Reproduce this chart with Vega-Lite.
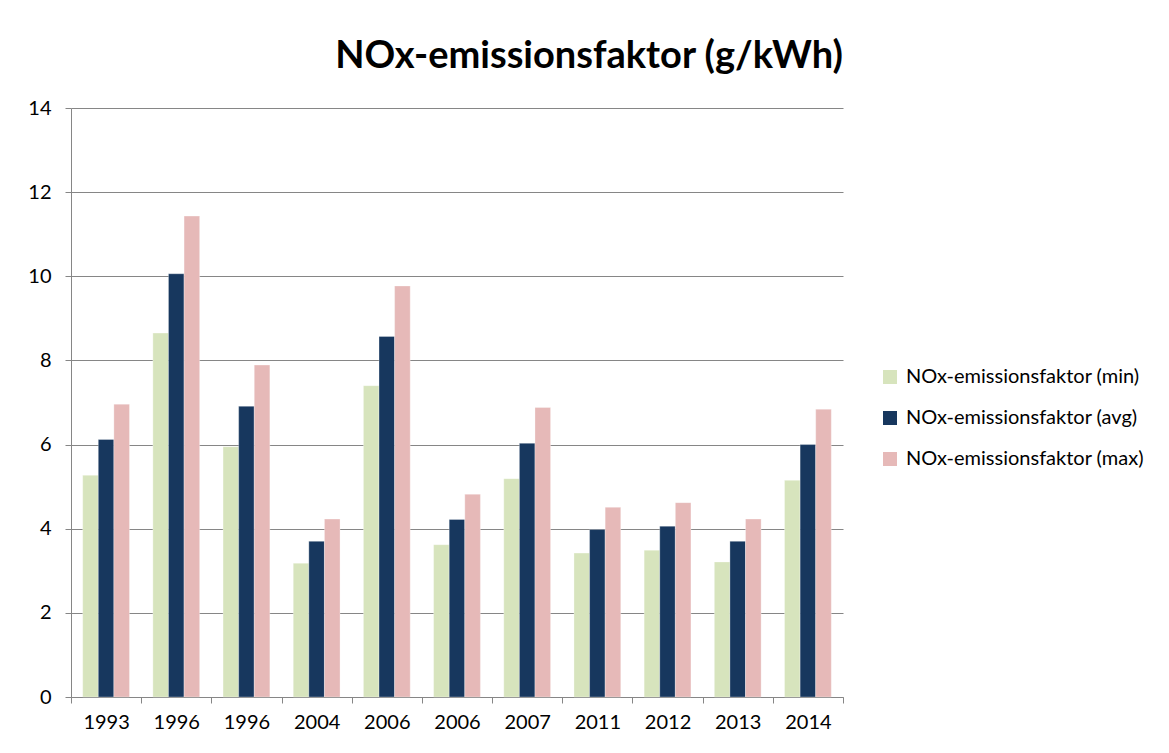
{
  "$schema": "https://vega.github.io/schema/vega-lite/v6.json",
  "autosize": {"type": "none"},
  "width": 772,
  "height": 589,
  "padding": {"left": 71, "top": 108, "right": 326, "bottom": 56},
  "background": "white",
  "title": {"text": "NOx-emissionsfaktor (g/kWh)", "font": "Lato", "fontSize": 38, "fontWeight": "bold", "color": "black", "anchor": "end", "frame": "group", "offset": 22},
  "data": {"values": [
    {"cat": "1993", "min": 5.27, "avg": 6.12, "max": 6.96},
    {"cat": "1996", "min": 8.65, "avg": 10.06, "max": 11.43},
    {"cat": "1996#2", "min": 5.95, "avg": 6.91, "max": 7.89},
    {"cat": "2004", "min": 3.18, "avg": 3.70, "max": 4.23},
    {"cat": "2006", "min": 7.40, "avg": 8.57, "max": 9.77},
    {"cat": "2006#2", "min": 3.62, "avg": 4.22, "max": 4.82},
    {"cat": "2007", "min": 5.19, "avg": 6.03, "max": 6.88},
    {"cat": "2011", "min": 3.42, "avg": 3.98, "max": 4.51},
    {"cat": "2012", "min": 3.49, "avg": 4.06, "max": 4.62},
    {"cat": "2013", "min": 3.21, "avg": 3.70, "max": 4.23},
    {"cat": "2014", "min": 5.15, "avg": 6.00, "max": 6.84}
  ]},
  "transform": [{"fold": ["min", "avg", "max"], "as": ["series", "value"]}],
  "mark": {"type": "bar", "stroke": "white", "strokeWidth": 0.5, "strokeOpacity": 0.6},
  "encoding": {
    "x": {
      "field": "cat", "type": "nominal", "sort": null,
      "scale": {"paddingInner": 0, "paddingOuter": 0},
      "axis": {"title": null, "labelAngle": 0, "labelExpr": "split(datum.label, '#')[0]", "tickBand": "extent", "domainColor": "#868686", "tickColor": "#868686", "tickSize": 6, "labelFont": "Lato", "labelFontSize": 20, "labelColor": "black", "labelPadding": 9, "grid": false}
    },
    "xOffset": {"field": "series", "type": "nominal", "sort": ["min", "avg", "max"], "scale": {"paddingInner": 0, "paddingOuter": 0.75}},
    "y": {
      "field": "value", "type": "quantitative",
      "scale": {"domain": [0, 14]},
      "axis": {"title": null, "values": [0, 2, 4, 6, 8, 10, 12, 14], "grid": true, "gridColor": "#868686", "domainColor": "#868686", "tickColor": "#868686", "tickSize": 6, "labelPadding": 14, "labelFont": "Lato", "labelFontSize": 20, "labelColor": "black"}
    },
    "color": {
      "field": "series", "type": "nominal",
      "scale": {"domain": ["min", "avg", "max"], "range": ["#D7E4BD", "#17375E", "#E6B9B8"]},
      "legend": {"title": null, "orient": "none", "legendX": 809, "legendY": 259, "labelExpr": "'NOx-emissionsfaktor  (' + datum.label + ')'", "labelLimit": 400, "symbolType": "square", "symbolSize": 196, "symbolStrokeWidth": 0, "labelFont": "Lato", "labelFontSize": 20, "labelColor": "black", "rowPadding": 21, "labelOffset": 6}
    }
  },
  "config": {"view": {"stroke": null}, "axis": {"domainWidth": 1, "gridWidth": 1, "tickWidth": 1}}
}
